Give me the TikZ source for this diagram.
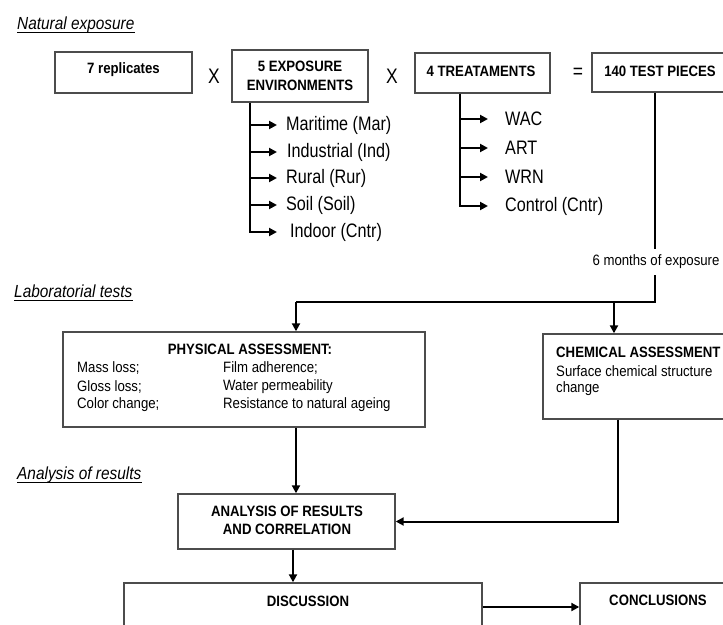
\documentclass[tikz,border=0pt]{standalone}
\usepackage{fontspec}
\setmainfont[FakeStretch=0.88]{Liberation Sans}
\newfontfamily\itemfam[FakeStretch=0.83]{Liberation Sans}
\usetikzlibrary{arrows.meta}
\begin{document}
\begin{tikzpicture}[x=1pt,y=-1pt,
  box/.style={draw=black!70, line width=1.4pt, fill=white, inner sep=0pt},
  bl/.style={font=\fontsize{15}{18.5}\selectfont\bfseries, align=center, inner sep=0pt},
  sm/.style={font=\fontsize{15}{18}\selectfont, inner sep=0pt, anchor=west},
  item/.style={font=\itemfam\fontsize{19.5}{21}\selectfont, inner sep=0pt, anchor=west},
  sec/.style={font=\fontsize{17.5}{20}\selectfont\itshape, inner sep=0pt, anchor=base west},
  uline/.style={line width=1pt},
  conn/.style={line width=2pt},
  arr/.style={conn, -{Triangle[length=8pt,width=8pt]}},
  sym/.style={font=\itemfam\fontsize{21}{21}\selectfont, inner sep=0pt},
]
\useasboundingbox (0,0) rectangle (723,624);
\fill[white] (0,0) rectangle (723,624);
\clip (0,0) rectangle (723,624);

% section labels
\node[sec] (natl) at (17,29) {Natural exposure};
\node[sec] (labl) at (14,297) {Laboratorial tests};
\node[sec] (anal) at (17,479) {Analysis of results};
\foreach \n in {natl,labl,anal}
  \draw[uline] ([yshift=-3pt]\n.base west) -- ([yshift=-3pt]\n.base east);

% top row
\node[box, minimum width=137pt, minimum height=41pt] (rep) at (123.5,72.5) {};
\node[bl] (rept) at (123.5,70) {7 replicates};
\node[sym] (x1) at (214,76) {X};
\node[box, minimum width=136pt, minimum height=52pt] (env) at (300,76) {};
\node[bl] (envt) at (300,76) {5 EXPOSURE\\ENVIRONMENTS};
\node[sym] (x2) at (392,76) {X};
\node[box, minimum width=135pt, minimum height=40pt] (treat) at (482.5,73) {};
\node[bl] (treatt) at (481,71) {4 TREATAMENTS};
\node[sym] (eq) at (578,73) {=};
\node[box, minimum width=136pt, minimum height=39pt] (tp) at (660,72.5) {};
\node[bl] (tpt) at (660,71) {140 TEST PIECES};

% environments
\node[item] (mar) at (286,125) {Maritime (Mar)};
\node[item] (ind) at (287,152) {Industrial (Ind)};
\node[item] (rur) at (286,178) {Rural (Rur)};
\node[item] (soi) at (286,205) {Soil (Soil)};
\node[item] (ido) at (290,232) {Indoor (Cntr)};
\coordinate (etx) at (250,0);
\draw[arr] (env.south -| etx) |- ([xshift=-13pt]ido.west);
\draw[arr] (etx |- ind.west) -- ([xshift=-10pt]ind.west);
\foreach \n in {mar,rur,soi}
  \draw[arr] (etx |- \n.west) -- ([xshift=-9pt]\n.west);

% treatments
\node[item] (wac) at (505,119) {WAC};
\node[item] (art) at (505,148) {ART};
\node[item] (wrn) at (505,177) {WRN};
\node[item] (ctr) at (505,206) {Control (Cntr)};
\coordinate (ttx) at (460,0);
\draw[arr] (treat.south -| ttx) |- ([xshift=-17pt]ctr.west);
\foreach \n in {wac,art,wrn}
  \draw[arr] (ttx |- \n.west) -- ([xshift=-17pt]\n.west);

% lab boxes
\node[box, minimum width=362pt, minimum height=95pt] (phys) at (244,379.5) {};
\node[bl] (physt) at (250,349) {PHYSICAL ASSESSMENT:};
\node[sm] (p1) at (77,368) {Mass loss;};
\node[sm] (p2) at (77,387) {Gloss loss;};
\node[sm] (p3) at (77,405) {Color change;};
\node[sm] (p4) at (223,368) {Film adherence;};
\node[sm] (p5) at (223,387) {Water permeability};
\node[sm] (p6) at (223,405) {Resistance to natural ageing};

\node[box, minimum width=192pt, minimum height=85pt] (chem) at (639,376.5) {};
\node[sm, font=\fontsize{15}{18}\selectfont\bfseries] (c1) at (556,352) {CHEMICAL ASSESSMENT};
\node[sm] (c2) at (556,371) {Surface chemical structure};
\node[sm] (c3) at (556,389) {change};

% 140 test pieces -> lab
\coordinate (j) at (655,302);
\coordinate (jl) at (296,302);
\coordinate (jc) at (614,302);
\draw[conn] (tp.south -| j) -- (j) -- (jl);
\node[sm, anchor=center, fill=white, inner xsep=1pt, inner ysep=6pt] (six) at (656,262) {6 months of exposure};
\draw[arr] (jl) -- (jl |- phys.north);
\draw[arr] (jc) -- (jc |- chem.north);

% analysis
\node[box, minimum width=217pt, minimum height=55pt] (ana) at (286.5,521.5) {};
\node[bl] (anat) at (287,520.5) {ANALYSIS OF RESULTS\\AND CORRELATION};
\draw[arr] (phys.south -| jl) -- (jl |- ana.north);
\coordinate (cx) at (618,0);
\draw[arr] (chem.south -| cx) |- (ana.east);

% discussion / conclusions
\node[box, minimum width=358pt, minimum height=60pt] (disc) at (303,613) {};
\node[bl] (disct) at (308,601) {DISCUSSION};
\node[box, minimum width=156pt, minimum height=60pt] (conc) at (658,613) {};
\node[bl] (conct) at (658,600) {CONCLUSIONS};
\coordinate (ax) at (293,0);
\draw[arr] (ana.south -| ax) -- (ax |- disc.north);
\coordinate (dy) at (0,607);
\draw[arr] (disc.east |- dy) -- (conc.west |- dy);
\end{tikzpicture}
\end{document}
